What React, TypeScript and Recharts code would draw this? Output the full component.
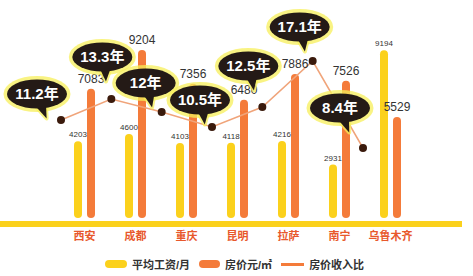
import React from "react";
import { ComposedChart, Bar, Line, XAxis, YAxis, LabelList } from "recharts";

const cities = ["西安", "成都", "重庆", "昆明", "拉萨", "南宁", "乌鲁木齐"];
const wages = [4203, 4600, 4103, 4118, 4216, 2931, 9194];
const prices = [7083, 9204, 7356, 6480, 7886, 7526, 5529];
const ratios = [11.2, 13.3, 12, 10.5, 12.5, 17.1, 8.4];

// where each speech bubble sits relative to its point
const bubbleOffsets = [
  [-24, -26],
  [-9, -42],
  [-16, -29],
  [-12, -27],
  [-14, -41],
  [-13, -34],
  [-23, -40],
];

const YELLOW = "#fbd11c";
const ORANGE = "#f47b3a";
const LINE = "#f0a47a";
const FONT = "'Liberation Sans', 'Noto Sans CJK SC', sans-serif";

const data = cities.map((city, i) => ({
  city,
  idx: i,
  wage: wages[i],
  price: prices[i],
  ratio: ratios[i],
}));

const Bubble = (props: any) => {
  const { x, y, value, index } = props;
  const [ox, oy] = bubbleOffsets[index] || [-15, -35];
  const cx = x + ox;
  const cy = y + oy;
  const rx = 30;
  const ry = 14.5;
  const tipX = cx + 0.4 * (x - cx);
  const tipY = cy + ry + 10;
  const tail = `M${cx - 3},${cy + ry - 4} L${tipX},${tipY} L${cx + 9},${cy + ry - 5} Z`;
  return (
    <g>
      <ellipse cx={cx} cy={cy} rx={rx + 3.5} ry={ry + 3.5} fill="#f7ef5a" opacity={0.75} />
      <path d={tail} fill="#f7ef5a" stroke="#f7ef5a" strokeWidth={4} strokeLinejoin="round" opacity={0.75} />
      <path d={tail} fill="#241a16" />
      <ellipse cx={cx} cy={cy} rx={rx} ry={ry} fill="#241a16" />
      <text
        x={cx}
        y={cy + 1}
        textAnchor="middle"
        dominantBaseline="middle"
        fill="#ffffff"
        fontSize={15}
        fontWeight="bold"
        fontFamily={FONT}
      >
        {value}年
      </text>
    </g>
  );
};

const Dot = (props: any) => {
  const { cx, cy } = props;
  return <circle cx={cx} cy={cy} r={4} fill="#3a1a0c" />;
};

const Legend = () => (
  <div
    style={{
      position: "absolute",
      left: 105,
      top: 256,
      display: "flex",
      alignItems: "center",
      fontFamily: FONT,
      fontSize: 11,
      fontWeight: "bold",
      color: "#333",
    }}
  >
    <span style={{ width: 22, height: 8, borderRadius: 4, background: YELLOW, marginRight: 5 }} />
    <span style={{ marginRight: 9 }}>平均工资/月</span>
    <span style={{ width: 21, height: 8, borderRadius: 4, background: ORANGE, marginRight: 5 }} />
    <span style={{ marginRight: 9 }}>房价元/㎡</span>
    <span style={{ width: 23, height: 3, background: ORANGE, marginRight: 5 }} />
    <span>房价收入比</span>
  </div>
);

export default function App() {
  return (
    <div style={{ position: "absolute", left: 0, top: 0, width: 473, height: 276, background: "#fff" }}>
      <ComposedChart
        width={473}
        height={276}
        data={data}
        margin={{ top: 30, right: 11, bottom: 32, left: 0 }}
        barGap={5}
      >
        <XAxis
          xAxisId="cat"
          dataKey="city"
          height={20}
          padding={{ left: 59, right: 46 }}
          axisLine={{ stroke: YELLOW, strokeWidth: 6 }}
          tickLine={false}
          tick={{ fill: "#e8582c", fontSize: 11, fontWeight: "bold", fontFamily: FONT }}
          interval={0}
        />
        <XAxis
          xAxisId="line"
          dataKey="idx"
          type="number"
          domain={[0, 6]}
          padding={{ left: 61, right: 99 }}
          hide
        />
        <YAxis yAxisId="bar" domain={[-329, 10302]} allowDataOverflow hide />
        <YAxis yAxisId="ratio" domain={[0.8, 20.2]} allowDataOverflow hide />
        <Bar
          xAxisId="cat"
          yAxisId="bar"
          dataKey="wage"
          fill={YELLOW}
          barSize={8}
          radius={[4, 4, 4, 4]}
          isAnimationActive={false}
        >
          <LabelList dataKey="wage" position="top" offset={4} fill="#333" fontSize={8} fontFamily={FONT} />
        </Bar>
        <Bar
          xAxisId="cat"
          yAxisId="bar"
          dataKey="price"
          fill={ORANGE}
          barSize={8}
          radius={[4, 4, 4, 4]}
          isAnimationActive={false}
        >
          <LabelList dataKey="price" position="top" offset={6} fill="#333" fontSize={12} fontFamily={FONT} />
        </Bar>
        <Line
          xAxisId="line"
          yAxisId="ratio"
          dataKey="ratio"
          stroke={LINE}
          strokeWidth={1.5}
          dot={<Dot />}
          activeDot={false}
          isAnimationActive={false}
        >
          <LabelList dataKey="ratio" content={<Bubble />} />
        </Line>
      </ComposedChart>
      <Legend />
    </div>
  );
}
